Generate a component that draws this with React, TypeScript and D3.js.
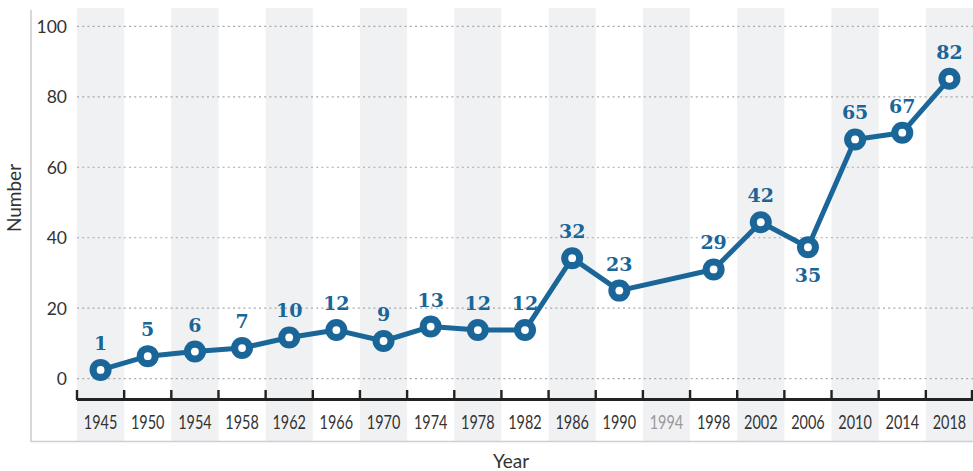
import React from "react";
import * as d3 from "d3";

const years = [1945, 1950, 1954, 1958, 1962, 1966, 1970, 1974, 1978, 1982, 1986, 1990, 1994, 1998, 2002, 2006, 2010, 2014, 2018];
const plotted: (number | null)[] = [2.5, 6.4, 7.7, 8.7, 11.7, 13.8, 10.7, 14.8, 13.8, 13.8, 34.2, 25.0, null, 31.0, 44.4, 37.3, 67.9, 69.8, 85.1];
const labels: (number | null)[] = [1, 5, 6, 7, 10, 12, 9, 13, 12, 12, 32, 23, null, 29, 42, 35, 65, 67, 82];
const labelBelowYears = [2006];
const mutedYears = [1994];
const yTicks = [0, 20, 40, 60, 80, 100];

const W = 973;
const H = 471;
const BLUE = "#1b6698";

export default function App() {
  const x = d3.scaleBand<number>().domain(years).range([77, 973]).padding(0);
  const y = d3.scaleLinear().domain([0, 100]).range([378.7, 26.3]);
  const pts = years
    .map((yr, i) => ({ yr, v: plotted[i], lab: labels[i] }))
    .filter((d) => d.v !== null) as { yr: number; v: number; lab: number }[];
  const line = d3
    .line<{ yr: number; v: number }>()
    .x((d) => (x(d.yr) as number) + x.bandwidth() / 2)
    .y((d) => y(d.v));
  const bw = x.bandwidth();
  const tickFont = "Lato, 'Open Sans', sans-serif";

  return (
    <svg width={W} height={H} style={{ position: "absolute", left: 0, top: 0, background: "#fff" }}>
      {/* bands */}
      {years.map((yr, i) =>
        i % 2 === 0 ? (
          <rect key={"b" + yr} x={x(yr)} y={8} width={bw} height={441.5 - 8} fill="#f0f1f3" />
        ) : null
      )}
      {/* grid */}
      {yTicks.map((t) => (
        <line key={"g" + t} x1={77} x2={973} y1={y(t)} y2={y(t)} stroke="#a8a8a8" strokeWidth={1.2} strokeDasharray="2,3.2" />
      ))}
      {/* frame */}
      <line x1={31} x2={31} y1={10} y2={442} stroke="#cfcfcf" strokeWidth={1.6} />
      <line x1={31} x2={973} y1={441.5} y2={441.5} stroke="#cfcfcf" strokeWidth={1.6} />
      {/* y tick labels */}
      {yTicks.map((t) => (
        <text key={"yl" + t} x={67} y={y(t)} dy="0.36em" textAnchor="end" fontFamily={tickFont} fontSize={17.5} fill="#333">
          {t}
        </text>
      ))}
      {/* x axis */}
      <line x1={77} x2={973} y1={399.5} y2={399.5} stroke="#222" strokeWidth={3} />
      {years.concat([0]).map((yr, i) => {
        const xx = i < years.length ? (x(yr) as number) : 973 - 1;
        return <line key={"t" + i} x1={xx} x2={xx} y1={390} y2={400} stroke="#222" strokeWidth={2.4} />;
      })}
      {years.map((yr) => (
        <text
          key={"xl" + yr}
          x={(x(yr) as number) + bw / 2}
          y={428.5}
          textAnchor="middle"
          fontFamily={tickFont}
          fontSize={18.5}
          textLength={33.5}
          lengthAdjust="spacingAndGlyphs"
          fill={mutedYears.includes(yr) ? "#999" : "#333"}
        >
          {yr}
        </text>
      ))}
      {/* axis titles */}
      <text x={511} y={467.5} textAnchor="middle" fontFamily={tickFont} fontSize={19} fill="#333">
        Year
      </text>
      <text transform="translate(21,198) rotate(-90)" textAnchor="middle" fontFamily={tickFont} fontSize={19} fill="#333">
        Number
      </text>
      {/* line */}
      <path d={line(pts) || ""} fill="none" stroke={BLUE} strokeWidth={5} strokeLinejoin="round" />
      {pts.map((d) => {
        const cx = (x(d.yr) as number) + bw / 2;
        const cy = y(d.v);
        return (
          <g key={"p" + d.yr}>
            <circle cx={cx} cy={cy} r={11} fill={BLUE} />
            <circle cx={cx} cy={cy} r={3.9} fill="#fff" />
          </g>
        );
      })}
      {pts.map((d) => {
        const cx = (x(d.yr) as number) + bw / 2;
        const cy = y(d.v);
        const below = labelBelowYears.includes(d.yr);
        return (
          <text
            key={"dl" + d.yr}
            x={cx}
            y={below ? cy + 35 : cy - 20}
            textAnchor="middle"
            fontFamily="'DejaVu Serif', serif"
            fontWeight="bold"
            fontSize={19}
            fill={BLUE}
          >
            {d.lab}
          </text>
        );
      })}
    </svg>
  );
}
